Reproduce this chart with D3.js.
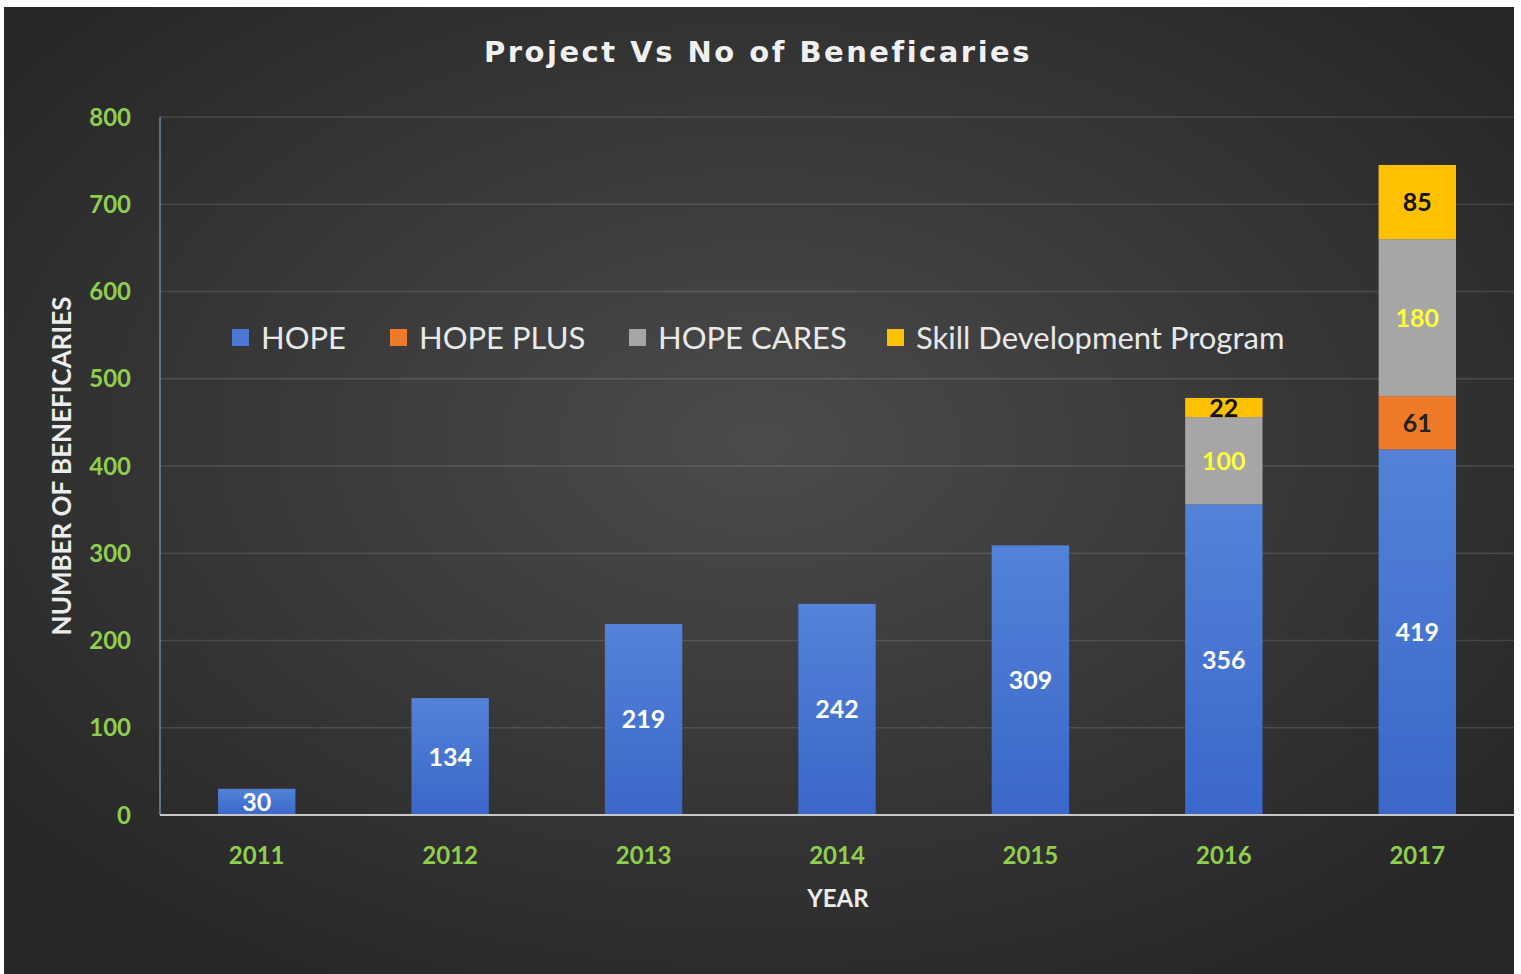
<!DOCTYPE html>
<html>
<head>
<meta charset="utf-8">
<title>Project Vs No of Beneficaries</title>
<script src="https://cdn.jsdelivr.net/npm/d3@7"></script>
<style>
  body { margin: 0; background: #fff; }
  svg { display: block; }
  text { font-family: Lato, "Open Sans", sans-serif; }
</style>
</head>
<body>
<script>
// data
var years = ["2011", "2012", "2013", "2014", "2015", "2016", "2017"];
var hope = [30, 134, 219, 242, 309, 356, 419];
var hopePlus = [0, 0, 0, 0, 0, 0, 61];
var hopeCares = [0, 0, 0, 0, 0, 100, 180];
var skillDev = [0, 0, 0, 0, 0, 22, 85];
var seriesNames = ["HOPE", "HOPE PLUS", "HOPE CARES", "Skill Development Program"];
var yTicks = [0, 100, 200, 300, 400, 500, 600, 700, 800];

var W = 1521, H = 974;
var svg = d3.select("body").append("svg").attr("width", W).attr("height", H);

var defs = svg.append("defs");
var bg = defs.append("radialGradient").attr("id", "bg")
  .attr("cx", "50%").attr("cy", "45%").attr("r", "65%");
bg.append("stop").attr("offset", "0%").attr("stop-color", "#4b4b4b");
bg.append("stop").attr("offset", "100%").attr("stop-color", "#262626");

var blue = defs.append("linearGradient").attr("id", "blueGrad")
  .attr("x1", 0).attr("y1", 0).attr("x2", 0).attr("y2", 1);
blue.append("stop").attr("offset", "0%").attr("stop-color", "#5382d8");
blue.append("stop").attr("offset", "100%").attr("stop-color", "#3a67c9");

svg.append("rect").attr("x", 4).attr("y", 7).attr("width", 1510).attr("height", H - 7)
  .attr("fill", "url(#bg)");

// plot area bounds (not "top": that name is taken by window.top)
var pLeft = 160, pRight = 1514, pTop = 117, pBottom = 815;

var x = d3.scaleBand().domain(years).range([pLeft, pRight]).paddingInner(0).paddingOuter(0);
var y = d3.scaleLinear().domain([0, 800]).range([pBottom, pTop]);
var barW = x.bandwidth() * 0.4;

// grid
svg.append("g").selectAll("line").data(yTicks.slice(1)).join("line")
  .attr("x1", pLeft).attr("x2", pRight)
  .attr("y1", d => y(d)).attr("y2", d => y(d))
  .attr("stroke", "#ffffff").attr("stroke-opacity", 0.12).attr("stroke-width", 1.5);

// stacked bars
var rows = years.map((yr, i) => ({
  year: yr, "HOPE": hope[i], "HOPE PLUS": hopePlus[i],
  "HOPE CARES": hopeCares[i], "Skill Development Program": skillDev[i]
}));
var stack = d3.stack().keys(seriesNames)(rows);
var fills = ["url(#blueGrad)", "#ee7a2a", "#a6a6a6", "#ffc000"];
var labelColors = ["#ffffff", "#222222", "#ffff3a", "#111111"];

stack.forEach(function(s, si) {
  var g = svg.append("g");
  var pts = s.filter(d => d[1] - d[0] > 0);
  g.selectAll("rect").data(pts).join("rect")
    .attr("x", d => x(d.data.year) + (x.bandwidth() - barW) / 2)
    .attr("width", barW)
    .attr("y", d => y(d[1]))
    .attr("height", d => y(d[0]) - y(d[1]))
    .attr("fill", fills[si]);
  g.selectAll("text").data(pts).join("text")
    .attr("x", d => x(d.data.year) + x.bandwidth() / 2)
    .attr("y", d => (y(d[0]) + y(d[1])) / 2)
    .attr("dy", "0.36em")
    .attr("text-anchor", "middle")
    .attr("font-size", 25).attr("font-weight", "bold")
    .attr("fill", labelColors[si])
    .text(d => d[1] - d[0]);
});

// axes lines
svg.append("line").attr("x1", pLeft).attr("x2", pLeft).attr("y1", pTop).attr("y2", pBottom)
  .attr("stroke", "#6f86b0").attr("stroke-width", 1.5);
svg.append("line").attr("x1", pLeft).attr("x2", pRight).attr("y1", pBottom).attr("y2", pBottom)
  .attr("stroke", "#c8c8c8").attr("stroke-width", 2);

// y tick labels
svg.append("g").selectAll("text").data(yTicks).join("text")
  .attr("x", 131).attr("y", d => y(d)).attr("dy", "0.36em")
  .attr("text-anchor", "end").attr("font-size", 24).attr("font-weight", "bold")
  .attr("fill", "#8fcf4e").text(d => d);

// x tick labels
svg.append("g").selectAll("text").data(years).join("text")
  .attr("x", d => x(d) + x.bandwidth() / 2).attr("y", 855).attr("dy", "0.36em")
  .attr("text-anchor", "middle").attr("font-size", 24).attr("font-weight", "bold")
  .attr("fill", "#8fcf4e").text(d => d);

// axis titles
svg.append("text").attr("x", 838).attr("y", 898).attr("dy", "0.36em")
  .attr("text-anchor", "middle").attr("font-size", 24).attr("font-weight", "bold")
  .attr("fill", "#ececec").text("YEAR");
svg.append("text").attr("transform", "translate(62,466) rotate(-90)").attr("dy", "0.36em")
  .attr("text-anchor", "middle").attr("font-size", 26).attr("font-weight", "bold")
  .attr("fill", "#ececec").text("NUMBER OF BENEFICARIES");

// title
svg.append("text").attr("x", 758).attr("y", 52).attr("dy", "0.36em")
  .attr("text-anchor", "middle").attr("font-size", 29).attr("font-weight", "bold")
  .attr("letter-spacing", 2.5)
  .style("font-family", "'DejaVu Sans', Verdana, sans-serif")
  .attr("fill", "#f0f0f0").text("Project Vs No of Beneficaries");

// legend
var legendX = [232, 390, 629, 887];
var legColors = ["#4a78d4", "#ee7a2a", "#a6a6a6", "#ffc000"];
var leg = svg.append("g").selectAll("g").data(seriesNames).join("g")
  .attr("transform", (d, i) => "translate(" + legendX[i] + ",338)");
leg.append("rect").attr("x", 0).attr("y", -9).attr("width", 17).attr("height", 17)
  .attr("fill", (d, i) => legColors[i]);
leg.append("text").attr("x", 29).attr("dy", "0.36em").attr("font-size", 31)
  .attr("fill", "#e8e8e8").text(d => d);
</script>
</body>
</html>
